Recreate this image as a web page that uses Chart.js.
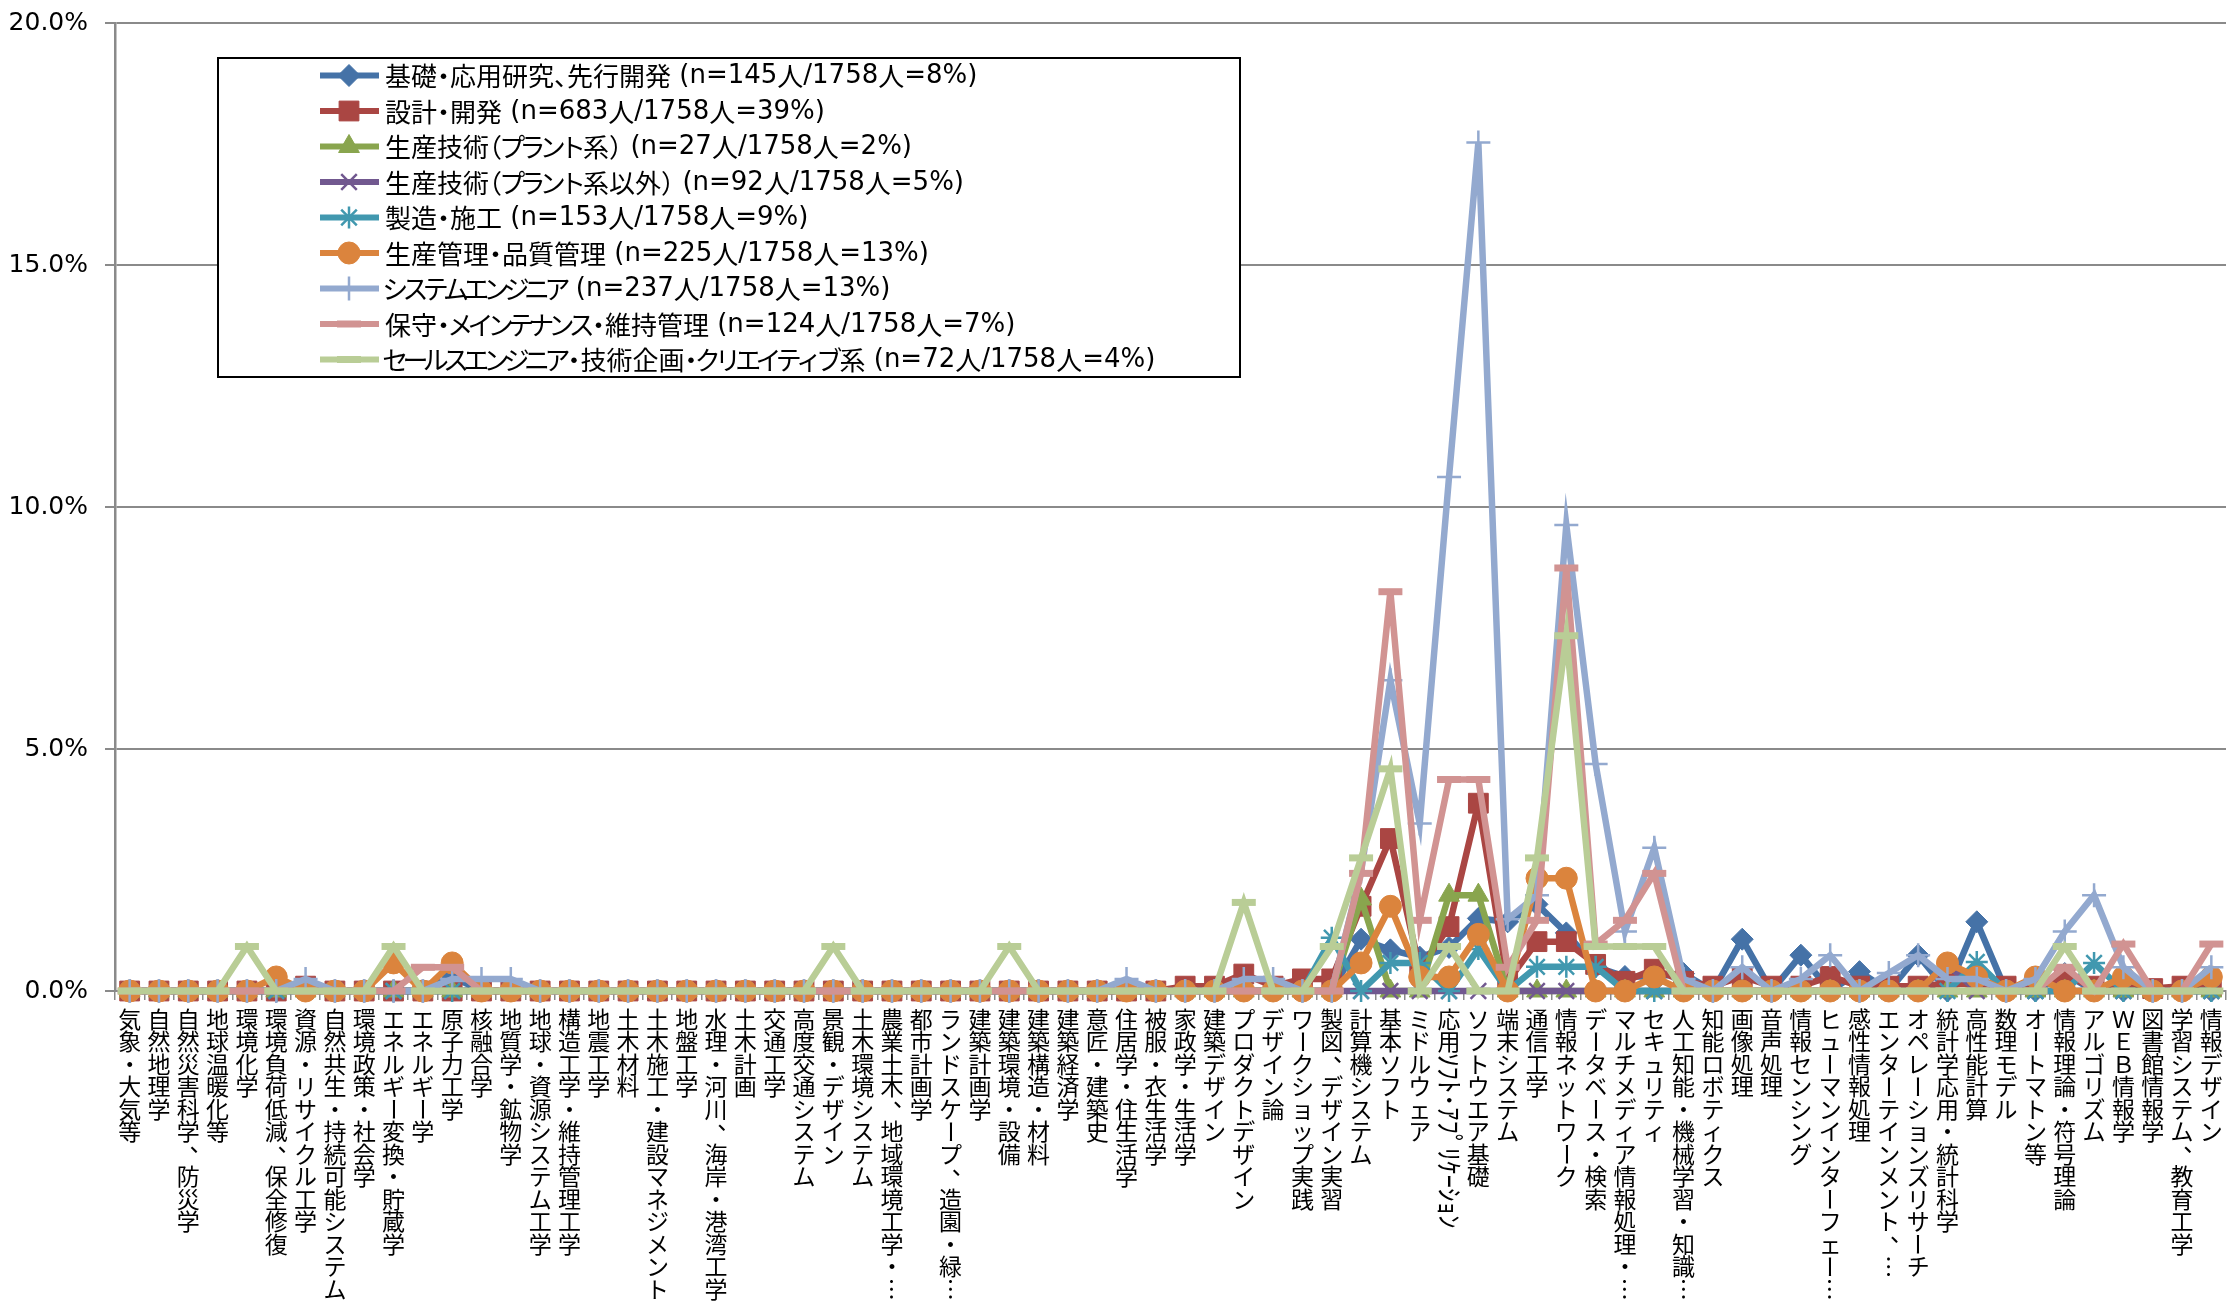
<!DOCTYPE html>
<html lang="ja">
<head>
<meta charset="utf-8">
<title>職種別・専門分野の割合</title>
<script src="https://cdn.jsdelivr.net/npm/chart.js@4.4.1/dist/chart.umd.min.js"></script>
<style>
  html, body { margin: 0; padding: 0; background: #ffffff; overflow: hidden; }
  #wrap { width: 2230px; height: 1306px; position: relative; }
</style>
</head>
<body>
<div id="wrap"><canvas id="chart"></canvas></div>
<script>
// 専門分野（横軸カテゴリ）
const categories = [
  '気象・大気等', '自然地理学', '自然災害科学、防災学', '地球温暖化等', '環境化学',
  '環境負荷低減、保全修復', '資源・リサイクル工学', '自然共生・持続可能システム', '環境政策・社会学', 'エネルギー変換・貯蔵学',
  'エネルギー学', '原子力工学', '核融合学', '地質学・鉱物学', '地球・資源システム工学',
  '構造工学・維持管理工学', '地震工学', '土木材料', '土木施工・建設マネジメント', '地盤工学',
  '水理・河川、海岸・港湾工学', '土木計画', '交通工学', '高度交通システム', '景観・デザイン',
  '土木環境システム', '農業土木、地域環境工学・…', '都市計画学', 'ランドスケープ、造園・緑…', '建築計画学',
  '建築環境・設備', '建築構造・材料', '建築経済学', '意匠・建築史', '住居学・住生活学',
  '被服・衣生活学', '家政学・生活学', '建築デザイン', 'プロダクトデザイン', 'デザイン論',
  'ワークショップ実践', '製図、デザイン実習', '計算機システム', '基本ソフト', 'ミドルウェア',
  '応用ｿﾌﾄ･ｱﾌﾟﾘｹｰｼｮﾝ', 'ソフトウエア基礎', '端末システム', '通信工学', '情報ネットワーク',
  'データベース・検索', 'マルチメディア情報処理・…', 'セキュリティ', '人工知能・機械学習・知識…', '知能ロボティクス',
  '画像処理', '音声処理', '情報センシング', 'ヒューマンインターフェー…', '感性情報処理',
  'エンターテインメント、…', 'オペレーションズリサーチ', '統計学応用・統計科学', '高性能計算', '数理モデル',
  'オートマトン等', '情報理論・符号理論', 'アルゴリズム', 'ＷＥＢ情報学', '図書館情報学',
  '学習システム、教育工学', '情報デザイン'
];

// 職種（凡例）
const seriesNames = [
  '基礎・応用研究、先行開発 (n=145人/1758人=8%)',
  '設計・開発 (n=683人/1758人=39%)',
  '生産技術（プラント系） (n=27人/1758人=2%)',
  '生産技術（プラント系以外） (n=92人/1758人=5%)',
  '製造・施工 (n=153人/1758人=9%)',
  '生産管理・品質管理 (n=225人/1758人=13%)',
  'システムエンジニア (n=237人/1758人=13%)',
  '保守・メインテナンス・維持管理 (n=124人/1758人=7%)',
  'セールスエンジニア・技術企画・クリエイティブ系 (n=72人/1758人=4%)'
];

// 各職種の分野別割合（%）
const kiso = [
  0, 0, 0, 0, 0, 0, 0, 0, 0, 0, 0, 0.3,
  0, 0, 0, 0, 0, 0, 0, 0, 0, 0, 0, 0,
  0, 0, 0, 0, 0, 0, 0, 0, 0, 0, 0, 0,
  0, 0, 0, 0, 0, 0, 1.07, 0.85, 0.7, 0.9, 1.5, 1.43,
  1.79, 1.2, 0.5, 0.3, 0.3, 0.36, 0, 1.07, 0, 0.74, 0, 0.4,
  0, 0.74, 0, 1.43, 0, 0, 0.36, 0, 0, 0, 0, 0
];
const sekkei = [
  0, 0, 0, 0, 0, 0, 0.1, 0, 0, 0, 0, 0,
  0, 0, 0, 0, 0, 0, 0, 0, 0, 0, 0, 0,
  0, 0, 0, 0, 0, 0, 0, 0, 0, 0, 0, 0,
  0.1, 0.1, 0.35, 0.1, 0.25, 0.25, 1.75, 3.15, 0.45, 1.33, 3.88, 0.2,
  1.02, 1.02, 0.55, 0.2, 0.45, 0.2, 0.1, 0.3, 0.1, 0.1, 0.3, 0.1,
  0.1, 0.1, 0.15, 0.15, 0.1, 0.1, 0.3, 0.1, 0.1, 0.05, 0.1, 0.1
];
const plant = [
  0, 0, 0, 0, 0, 0, 0, 0, 0, 0, 0, 0,
  0, 0, 0, 0, 0, 0, 0, 0, 0, 0, 0, 0,
  0, 0, 0, 0, 0, 0, 0, 0, 0, 0, 0, 0,
  0, 0, 0, 0, 0, 0, 1.9, 0, 0, 1.98, 1.98, 0,
  0, 0, 0, 0, 0, 0, 0, 0, 0, 0, 0, 0,
  0, 0, 0, 0, 0, 0, 0, 0, 0, 0, 0, 0
];
const plantOther = [
  0, 0, 0, 0, 0, 0, 0, 0, 0, 0, 0, 0,
  0, 0, 0, 0, 0, 0, 0, 0, 0, 0, 0, 0,
  0, 0, 0, 0, 0, 0, 0, 0, 0, 0, 0, 0,
  0, 0, 0, 0, 0, 0, 0, 0, 0, 0, 0, 0,
  0, 0, 0, 0, 0, 0, 0, 0, 0, 0, 0, 0,
  0, 0, 0.55, 0, 0, 0, 0, 0, 0, 0, 0, 0
];
const seizo = [
  0, 0, 0, 0, 0, 0, 0, 0, 0, 0, 0, 0,
  0, 0, 0, 0, 0, 0, 0, 0, 0, 0, 0, 0,
  0, 0, 0, 0, 0, 0, 0, 0, 0, 0, 0, 0,
  0, 0, 0, 0, 0, 1.1, 0, 0.58, 0.58, 0, 0.87, 0,
  0.5, 0.5, 0.5, 0, 0, 0, 0, 0, 0, 0, 0, 0,
  0, 0, 0, 0.6, 0, 0, 0, 0.58, 0, 0, 0, 0
];
const kanri = [
  0, 0, 0, 0, 0, 0.29, 0, 0, 0, 0.58, 0, 0.58,
  0, 0, 0, 0, 0, 0, 0, 0, 0, 0, 0, 0,
  0, 0, 0, 0, 0, 0, 0, 0, 0, 0, 0, 0,
  0, 0, 0, 0, 0, 0, 0.58, 1.75, 0.29, 0.29, 1.17, 0,
  2.33, 2.33, 0, 0, 0.29, 0, 0, 0, 0, 0, 0, 0,
  0, 0, 0.58, 0.29, 0, 0.29, 0, 0, 0.29, 0, 0, 0.29
];
const systemEng = [
  0, 0, 0, 0, 0, 0, 0.25, 0, 0, 0, 0, 0.25,
  0.25, 0.25, 0, 0, 0, 0, 0, 0, 0, 0, 0, 0,
  0, 0, 0, 0, 0, 0, 0, 0, 0, 0, 0.25, 0,
  0, 0, 0.25, 0.25, 0, 0, 2.47, 6.42, 3.46, 10.62, 17.53, 1.48,
  1.98, 9.63, 4.69, 1.23, 2.96, 0.25, 0, 0.49, 0, 0.25, 0.74, 0,
  0.37, 0.74, 0.25, 0.25, 0, 0.25, 1.23, 1.98, 0.49, 0, 0, 0.49
];
const hoshu = [
  0, 0, 0, 0, 0, 0, 0, 0, 0, 0, 0.49, 0.49,
  0, 0, 0, 0, 0, 0, 0, 0, 0, 0, 0, 0,
  0, 0, 0, 0, 0, 0, 0, 0, 0, 0, 0, 0,
  0, 0, 0, 0, 0, 0, 2.43, 8.25, 1.46, 4.37, 4.37, 0.49,
  1.46, 8.74, 0.97, 1.46, 2.43, 0, 0, 0, 0, 0, 0, 0,
  0, 0, 0, 0, 0, 0, 0.49, 0, 0.97, 0, 0, 0.97
];
const sales = [
  0, 0, 0, 0, 0.92, 0, 0, 0, 0, 0.92, 0, 0,
  0, 0, 0, 0, 0, 0, 0, 0, 0, 0, 0, 0,
  0.92, 0, 0, 0, 0, 0, 0.92, 0, 0, 0, 0, 0,
  0, 0, 1.83, 0, 0, 0.92, 2.75, 4.59, 0, 0.92, 0, 0,
  2.75, 7.34, 0.92, 0.92, 0.92, 0, 0, 0, 0, 0, 0, 0,
  0, 0, 0, 0, 0, 0, 0.92, 0, 0, 0, 0, 0
];

// 縦軸目盛
const yTicks = [0, 5, 10, 15, 20];

const seriesData = [kiso, sekkei, plant, plantOther, seizo, kanri, systemEng, hoshu, sales];
const seriesColors = ['#4572A7', '#AA4643', '#89A54E', '#71588F', '#4198AF', '#DB843D', '#93A9CF', '#D19392', '#B9CD96'];
const markerStyles = [
  { style: 'rectRot', r: 11, bw: 1 },
  { style: 'rect', r: 14, bw: 1 },
  { style: 'triangle', r: 12, bw: 1 },
  { style: 'crossRot', r: 11, bw: 2.5 },
  { style: 'star', r: 11, bw: 2.5 },
  { style: 'circle', r: 11, bw: 1 },
  { style: 'cross', r: 12, bw: 2.5 },
  { style: 'line', r: 12, bw: 7 },
  { style: 'line', r: 12, bw: 7 }
];

const datasets = seriesData.map((values, i) => ({
  label: seriesNames[i],
  data: values,
  borderColor: seriesColors[i],
  backgroundColor: seriesColors[i],
  borderWidth: 6.5,
  pointStyle: markerStyles[i].style,
  pointRadius: markerStyles[i].r,
  pointBorderWidth: markerStyles[i].bw,
  pointBackgroundColor: seriesColors[i],
  pointBorderColor: seriesColors[i],
  tension: 0,
  clip: false,
  order: seriesData.length - 1 - i
}));

const CJK_FONT = '"Noto Sans CJK JP"';
const LATIN_FONT = '"DejaVu Sans"';

// 縦書きの分野名ラベル
const HALF_KANA = /[\uFF61-\uFF9F]/;
const ROTATED = new Set(['ー', '…', '－', '～']);
const CORNER = new Set(['、', '。']);

const verticalLabels = {
  id: 'verticalLabels',
  afterDraw(chart) {
    const xs = chart.scales.x;
    const ctx = chart.ctx;
    const fs = 23;
    const halfFs = 27;
    const pitch = 22.5;
    const top = chart.chartArea.bottom + 17;
    ctx.save();
    ctx.fillStyle = '#000000';
    ctx.textBaseline = 'middle';
    categories.forEach((label, i) => {
      const cx = xs.getPixelForTick(i);
      const chars = Array.from(label);
      let y = top;
      let k = 0;
      while (k < chars.length) {
        if (HALF_KANA.test(chars[k])) {
          // 半角カナは横倒しで描く
          let run = '';
          while (k < chars.length && HALF_KANA.test(chars[k])) run += chars[k++];
          ctx.font = halfFs + 'px ' + CJK_FONT;
          const w = ctx.measureText(run).width;
          ctx.save();
          ctx.translate(cx, y);
          ctx.rotate(Math.PI / 2);
          ctx.textAlign = 'left';
          ctx.fillText(run, 0, 0);
          ctx.restore();
          y += w;
          continue;
        }
        const ch = chars[k++];
        const cy = y + pitch / 2;
        ctx.font = fs + 'px ' + CJK_FONT;
        ctx.textAlign = 'center';
        if (ROTATED.has(ch)) {
          ctx.save();
          ctx.translate(cx, cy);
          ctx.rotate(Math.PI / 2);
          ctx.fillText(ch, 0, 0);
          ctx.restore();
        } else if (CORNER.has(ch)) {
          ctx.fillText(ch, cx + 0.55 * fs, cy - 0.5 * fs);
        } else {
          ctx.fillText(ch, cx, cy);
        }
        y += pitch;
      }
    });
    ctx.restore();
  }
};

// 凡例文字列：かなと約物は詰めて描く
function drawLegendText(ctx, text, x, y) {
  const cjkSize = 26, latinSize = 26;
  const chars = Array.from(text);
  let k = 0;
  while (k < chars.length) {
    const code = chars[k].codePointAt(0);
    if (code < 0x3000) {
      let run = '';
      while (k < chars.length && chars[k].codePointAt(0) < 0x3000) run += chars[k++];
      ctx.font = latinSize + 'px ' + LATIN_FONT + ', ' + CJK_FONT;
      ctx.fillText(run, x, y);
      x += ctx.measureText(run).width;
      continue;
    }
    const ch = chars[k++];
    ctx.font = cjkSize + 'px ' + CJK_FONT;
    const w = ctx.measureText(ch).width;
    let adv = w, dx = 0;
    if (ch === '・') { adv = w * 0.5; dx = -w * 0.25; }
    else if (ch === '、' || ch === '。') { adv = w * 0.5; dx = 0; }
    else if (ch === '（') { adv = w * 0.5; dx = -w * 0.5; }
    else if (ch === '）') { adv = w * 0.5; dx = 0; }
    else if (code >= 0x3040 && code <= 0x30FF) { adv = w * 0.78; dx = (adv - w) / 2; }
    ctx.fillText(ch, x + dx, y);
    x += adv;
  }
}

// 枠付き凡例（グラフ内左上）
const boxLegend = {
  id: 'boxLegend',
  afterDraw(chart) {
    const ctx = chart.ctx;
    const box = { x: 218, y: 58, w: 1022, h: 319 };
    const rowTop = 75.5, rowStep = 35.5;
    ctx.save();
    ctx.fillStyle = '#ffffff';
    ctx.fillRect(box.x, box.y, box.w, box.h);
    ctx.strokeStyle = '#000000';
    ctx.lineWidth = 2;
    ctx.strokeRect(box.x, box.y, box.w, box.h);
    chart.data.datasets.forEach((ds, i) => {
      const y = rowTop + i * rowStep;
      ctx.strokeStyle = ds.borderColor;
      ctx.lineWidth = 6;
      ctx.lineCap = 'butt';
      ctx.beginPath();
      ctx.moveTo(320, y);
      ctx.lineTo(379, y);
      ctx.stroke();
      ctx.fillStyle = ds.pointBackgroundColor;
      ctx.strokeStyle = ds.pointBorderColor;
      ctx.lineWidth = ds.pointBorderWidth;
      if (Chart.helpers && Chart.helpers.drawPoint) {
        Chart.helpers.drawPoint(ctx, {
          pointStyle: ds.pointStyle,
          radius: ds.pointRadius,
          rotation: 0,
          borderWidth: ds.pointBorderWidth
        }, 349, y);
      }
      ctx.fillStyle = '#000000';
      ctx.textAlign = 'left';
      ctx.textBaseline = 'middle';
      drawLegendText(ctx, ds.label, 385, y + 1);
    });
    ctx.restore();
  }
};

new Chart(document.getElementById('chart'), {
  type: 'line',
  data: { labels: categories, datasets },
  options: {
    responsive: true,
    maintainAspectRatio: false,
    animation: false,
    events: [],
    layout: { autoPadding: false, padding: { top: 23, right: 4, left: 0, bottom: 0 } },
    plugins: {
      legend: { display: false },
      tooltip: { enabled: false },
      title: { display: false }
    },
    scales: {
      x: {
        type: 'category',
        offset: true,
        ticks: { display: false, autoSkip: false },
        grid: {
          display: true,
          drawOnChartArea: false,
          drawTicks: true,
          tickLength: 9,
          offset: true,
          color: '#8a8a8a',
          lineWidth: 1.5
        },
        border: { display: true, color: '#8a8a8a', width: 2 },
        afterFit(scale) { scale.height = 315; }
      },
      y: {
        min: yTicks[0],
        max: yTicks[yTicks.length - 1],
        afterBuildTicks(scale) { scale.ticks = yTicks.map(v => ({ value: v })); },
        ticks: {
          callback: v => v.toFixed(1) + '%',
          color: '#000000',
          padding: 17,
          font: { family: LATIN_FONT, size: 25 }
        },
        grid: {
          color: '#8a8a8a',
          lineWidth: 2,
          drawTicks: true,
          tickLength: 10
        },
        border: { display: true, color: '#8a8a8a', width: 2.5 },
        afterFit(scale) {
          scale.width = 115;
          scale.paddingTop = 0;
          scale.paddingBottom = 0;
        }
      }
    }
  },
  plugins: [verticalLabels, boxLegend]
});
</script>
</body>
</html>
